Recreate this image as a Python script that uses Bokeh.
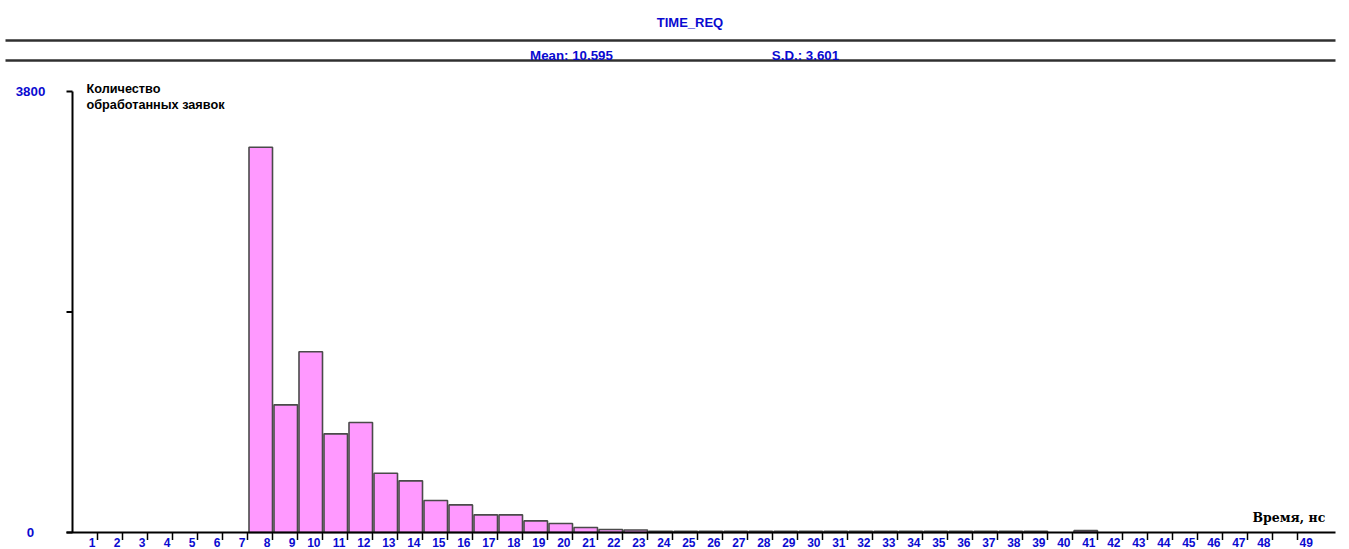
from bokeh.plotting import figure
from bokeh.models import Range1d, ColumnDataSource
from bokeh.embed import file_html
from bokeh.resources import INLINE
from bokeh.core.properties import value

# ---------------- data ----------------
bins = list(range(1, 50))
counts = ([0, 0, 0, 0, 0, 0, 0,
           3320, 1100, 1557, 850, 948, 511, 445, 276, 238, 152, 152, 100, 78, 43, 26, 22]
          + [10] * 16 + [0, 16] + [0] * 8)
x_tick_labels = [str(b) for b in bins]
y_ticks = [0, 1900, 3800]
y_tick_labels = ["0", "", "3800"]
y_max = 3800

title_text = "TIME_REQ"
mean_text = "Mean: 10.595"
sd_text = "S.D.: 3.601"
y_title = ["Количество", "обработанных заявок"]
x_title = "Время, нс"

# ---------------- layout helpers (canvas pixel -> data) ----------------
W, H = 1349, 549
BIN_PX = 25.0
X0_PX = 72.0     # canvas x of value 0
Y0_PX = 532.0    # canvas y of count 0
Y_SCALE = 441.0 / y_max   # px per count


def X(px):
    return (px - X0_PX) / BIN_PX


def Y(py):
    return (Y0_PX - py) / Y_SCALE


p = figure(width=W, height=H, title=None,
           x_range=Range1d(X(0), X(W)), y_range=Range1d(Y(H), Y(0)),
           min_border=0, toolbar_location=None, output_backend="svg",
           x_axis_location=None, y_axis_location=None, outline_line_color=None)
p.grid.visible = False
p.background_fill_color = "white"

BLUE = "#0a0ad0"
FONT = value("Liberation Sans")

# header lines and texts
p.segment(x0=[X(5), X(5)], y0=[Y(40), Y(60)], x1=[X(1335), X(1335)], y1=[Y(40), Y(60)],
          line_width=2.5, line_color="#303030")
p.text(x=[X(689.5)], y=[Y(21.5)], text=[title_text], text_align="center", text_baseline="alphabetic",
       text_font=FONT, text_font_style="bold", text_font_size="13px", text_color=BLUE)
p.text(x=[X(571), X(805)], y=[Y(54.5), Y(54.5)], text=[mean_text, sd_text], text_align="center",
       text_baseline="alphabetic", text_font=FONT, text_font_style="bold", text_font_size="13.3px",
       text_color=BLUE)

# bars
nz = [i for i, c in enumerate(counts) if c > 0]
src = ColumnDataSource(dict(
    left=[bins[i] - 1 + 1.5 / BIN_PX for i in nz],
    right=[bins[i] for i in nz],
    top=[counts[i] for i in nz],
))
p.quad(left="left", right="right", bottom=0, top="top", source=src,
       fill_color="#ff99ff", line_color="#4a4a4a", line_width=1.6)

# axes
p.segment(x0=[X(66)], y0=[0], x1=[X(1335)], y1=[0], line_width=2, line_color="black")
p.segment(x0=[0], y0=[0], x1=[0], y1=[y_max], line_width=2, line_color="black")
p.segment(x0=[X(66)] * len(y_ticks), y0=y_ticks, x1=[0] * len(y_ticks), y1=y_ticks,
          line_width=2, line_color="black")
p.segment(x0=bins, y0=[0] * len(bins), x1=bins, y1=[Y(539.5)] * len(bins),
          line_width=1.5, line_color="black")

# tick labels
p.text(x=[X(30)] * len(y_ticks), y=[Y(531.5), Y(311), Y(91)], text=y_tick_labels,
       text_align="center", text_baseline="alphabetic", text_font=FONT, text_font_style="bold",
       text_font_size="13.3px", text_color=BLUE)
p.text(x=[b - 2 / BIN_PX for b in bins[:-1]], y=[Y(542)] * (len(bins) - 1), text=x_tick_labels[:-1],
       text_align="right", text_baseline="alphabetic", text_font=FONT, text_font_style="bold",
       text_font_size="12px", text_color=BLUE)
p.text(x=[bins[-1] + 2 / BIN_PX], y=[Y(542)], text=x_tick_labels[-1:],
       text_align="left", text_baseline="alphabetic", text_font=FONT, text_font_style="bold",
       text_font_size="12px", text_color=BLUE)

# axis titles
p.text(x=[X(86), X(86)], y=[Y(88.5), Y(104.5)], text=y_title, text_align="left",
       text_baseline="alphabetic", text_font=FONT, text_font_style="bold", text_font_size="12.7px",
       text_color="black")
p.text(x=[X(1252)], y=[Y(516.5)], text=[x_title], text_align="left", text_baseline="alphabetic",
       text_font=value("DejaVu Serif"), text_font_style="bold", text_font_size="12.5px",
       text_color="black")

open("out.html", "w").write(file_html(p, INLINE))
